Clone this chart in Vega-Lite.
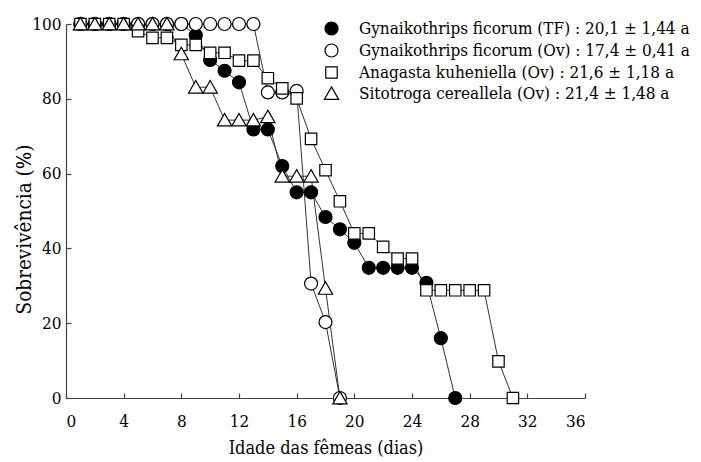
{
  "$schema": "https://vega.github.io/schema/vega-lite/v6.json",
  "width": 519,
  "height": 374,
  "autosize": {"type": "none"},
  "padding": {"left": 66, "top": 24, "right": 116, "bottom": 64},
  "background": "white",
  "config": {
    "view": {"stroke": null},
    "font": "DejaVu Serif Condensed, DejaVu Serif",
    "axis": {
      "grid": false,
      "domainColor": "#444",
      "domainWidth": 1.2,
      "tickColor": "#444",
      "tickWidth": 1.2,
      "tickSize": -5,
      "labelFont": "DejaVu Serif Condensed, DejaVu Serif",
      "labelFontSize": 17,
      "labelColor": "black",
      "titleFont": "DejaVu Serif Condensed, DejaVu Serif",
      "titleFontSize": 18,
      "titleFontWeight": "normal",
      "titleColor": "black"
    },
    "legend": {
      "orient": "none",
      "legendX": 257,
      "legendY": -4,
      "padding": 0,
      "labelFont": "DejaVu Serif Condensed, DejaVu Serif",
      "labelFontSize": 17,
      "labelColor": "black",
      "labelLimit": 0,
      "labelOffset": 19,
      "rowPadding": 3,
      "symbolSize": 169,
      "symbolStrokeColor": "black",
      "symbolStrokeWidth": 1.2
    }
  },
  "data": {
    "values": [
      {"serie": "Gynaikothrips  ficorum (TF) : 20,1 ± 1,44 a", "d": 1, "v": 100},
      {"serie": "Gynaikothrips  ficorum (TF) : 20,1 ± 1,44 a", "d": 2, "v": 100},
      {"serie": "Gynaikothrips  ficorum (TF) : 20,1 ± 1,44 a", "d": 3, "v": 100},
      {"serie": "Gynaikothrips  ficorum (TF) : 20,1 ± 1,44 a", "d": 4, "v": 100},
      {"serie": "Gynaikothrips  ficorum (TF) : 20,1 ± 1,44 a", "d": 5, "v": 100},
      {"serie": "Gynaikothrips  ficorum (TF) : 20,1 ± 1,44 a", "d": 6, "v": 100},
      {"serie": "Gynaikothrips  ficorum (TF) : 20,1 ± 1,44 a", "d": 7, "v": 100},
      {"serie": "Gynaikothrips  ficorum (TF) : 20,1 ± 1,44 a", "d": 8, "v": 100},
      {"serie": "Gynaikothrips  ficorum (TF) : 20,1 ± 1,44 a", "d": 9, "v": 97},
      {"serie": "Gynaikothrips  ficorum (TF) : 20,1 ± 1,44 a", "d": 10, "v": 90.4},
      {"serie": "Gynaikothrips  ficorum (TF) : 20,1 ± 1,44 a", "d": 11, "v": 87.5},
      {"serie": "Gynaikothrips  ficorum (TF) : 20,1 ± 1,44 a", "d": 12, "v": 84.4},
      {"serie": "Gynaikothrips  ficorum (TF) : 20,1 ± 1,44 a", "d": 13, "v": 71.8},
      {"serie": "Gynaikothrips  ficorum (TF) : 20,1 ± 1,44 a", "d": 14, "v": 71.8},
      {"serie": "Gynaikothrips  ficorum (TF) : 20,1 ± 1,44 a", "d": 15, "v": 62},
      {"serie": "Gynaikothrips  ficorum (TF) : 20,1 ± 1,44 a", "d": 16, "v": 55},
      {"serie": "Gynaikothrips  ficorum (TF) : 20,1 ± 1,44 a", "d": 17, "v": 55},
      {"serie": "Gynaikothrips  ficorum (TF) : 20,1 ± 1,44 a", "d": 18, "v": 48.4},
      {"serie": "Gynaikothrips  ficorum (TF) : 20,1 ± 1,44 a", "d": 19, "v": 45.1},
      {"serie": "Gynaikothrips  ficorum (TF) : 20,1 ± 1,44 a", "d": 20, "v": 41.5},
      {"serie": "Gynaikothrips  ficorum (TF) : 20,1 ± 1,44 a", "d": 21, "v": 34.8},
      {"serie": "Gynaikothrips  ficorum (TF) : 20,1 ± 1,44 a", "d": 22, "v": 34.8},
      {"serie": "Gynaikothrips  ficorum (TF) : 20,1 ± 1,44 a", "d": 23, "v": 34.8},
      {"serie": "Gynaikothrips  ficorum (TF) : 20,1 ± 1,44 a", "d": 24, "v": 34.8},
      {"serie": "Gynaikothrips  ficorum (TF) : 20,1 ± 1,44 a", "d": 25, "v": 30.8},
      {"serie": "Gynaikothrips  ficorum (TF) : 20,1 ± 1,44 a", "d": 26, "v": 16},
      {"serie": "Gynaikothrips  ficorum (TF) : 20,1 ± 1,44 a", "d": 27, "v": 0},
      {"serie": "Gynaikothrips ficorum (Ov) : 17,4 ± 0,41 a", "d": 1, "v": 100},
      {"serie": "Gynaikothrips ficorum (Ov) : 17,4 ± 0,41 a", "d": 2, "v": 100},
      {"serie": "Gynaikothrips ficorum (Ov) : 17,4 ± 0,41 a", "d": 3, "v": 100},
      {"serie": "Gynaikothrips ficorum (Ov) : 17,4 ± 0,41 a", "d": 4, "v": 100},
      {"serie": "Gynaikothrips ficorum (Ov) : 17,4 ± 0,41 a", "d": 5, "v": 100},
      {"serie": "Gynaikothrips ficorum (Ov) : 17,4 ± 0,41 a", "d": 6, "v": 100},
      {"serie": "Gynaikothrips ficorum (Ov) : 17,4 ± 0,41 a", "d": 7, "v": 100},
      {"serie": "Gynaikothrips ficorum (Ov) : 17,4 ± 0,41 a", "d": 8, "v": 100},
      {"serie": "Gynaikothrips ficorum (Ov) : 17,4 ± 0,41 a", "d": 9, "v": 100},
      {"serie": "Gynaikothrips ficorum (Ov) : 17,4 ± 0,41 a", "d": 10, "v": 100},
      {"serie": "Gynaikothrips ficorum (Ov) : 17,4 ± 0,41 a", "d": 11, "v": 100},
      {"serie": "Gynaikothrips ficorum (Ov) : 17,4 ± 0,41 a", "d": 12, "v": 100},
      {"serie": "Gynaikothrips ficorum (Ov) : 17,4 ± 0,41 a", "d": 13, "v": 100},
      {"serie": "Gynaikothrips ficorum (Ov) : 17,4 ± 0,41 a", "d": 14, "v": 81.7},
      {"serie": "Gynaikothrips ficorum (Ov) : 17,4 ± 0,41 a", "d": 15, "v": 81.7},
      {"serie": "Gynaikothrips ficorum (Ov) : 17,4 ± 0,41 a", "d": 16, "v": 82.1},
      {"serie": "Gynaikothrips ficorum (Ov) : 17,4 ± 0,41 a", "d": 17, "v": 30.6},
      {"serie": "Gynaikothrips ficorum (Ov) : 17,4 ± 0,41 a", "d": 18, "v": 20.3},
      {"serie": "Gynaikothrips ficorum (Ov) : 17,4 ± 0,41 a", "d": 19, "v": 0},
      {"serie": "Anagasta kuheniella (Ov) : 21,6 ± 1,18 a", "d": 1, "v": 100},
      {"serie": "Anagasta kuheniella (Ov) : 21,6 ± 1,18 a", "d": 2, "v": 100},
      {"serie": "Anagasta kuheniella (Ov) : 21,6 ± 1,18 a", "d": 3, "v": 100},
      {"serie": "Anagasta kuheniella (Ov) : 21,6 ± 1,18 a", "d": 4, "v": 100},
      {"serie": "Anagasta kuheniella (Ov) : 21,6 ± 1,18 a", "d": 5, "v": 98.1},
      {"serie": "Anagasta kuheniella (Ov) : 21,6 ± 1,18 a", "d": 6, "v": 96.3},
      {"serie": "Anagasta kuheniella (Ov) : 21,6 ± 1,18 a", "d": 7, "v": 96.3},
      {"serie": "Anagasta kuheniella (Ov) : 21,6 ± 1,18 a", "d": 8, "v": 94.4},
      {"serie": "Anagasta kuheniella (Ov) : 21,6 ± 1,18 a", "d": 9, "v": 94.4},
      {"serie": "Anagasta kuheniella (Ov) : 21,6 ± 1,18 a", "d": 10, "v": 92.3},
      {"serie": "Anagasta kuheniella (Ov) : 21,6 ± 1,18 a", "d": 11, "v": 92.3},
      {"serie": "Anagasta kuheniella (Ov) : 21,6 ± 1,18 a", "d": 12, "v": 90.2},
      {"serie": "Anagasta kuheniella (Ov) : 21,6 ± 1,18 a", "d": 13, "v": 90.2},
      {"serie": "Anagasta kuheniella (Ov) : 21,6 ± 1,18 a", "d": 14, "v": 85.5},
      {"serie": "Anagasta kuheniella (Ov) : 21,6 ± 1,18 a", "d": 15, "v": 82.8},
      {"serie": "Anagasta kuheniella (Ov) : 21,6 ± 1,18 a", "d": 16, "v": 80.1},
      {"serie": "Anagasta kuheniella (Ov) : 21,6 ± 1,18 a", "d": 17, "v": 69.3},
      {"serie": "Anagasta kuheniella (Ov) : 21,6 ± 1,18 a", "d": 18, "v": 60.9},
      {"serie": "Anagasta kuheniella (Ov) : 21,6 ± 1,18 a", "d": 19, "v": 52.6},
      {"serie": "Anagasta kuheniella (Ov) : 21,6 ± 1,18 a", "d": 20, "v": 44},
      {"serie": "Anagasta kuheniella (Ov) : 21,6 ± 1,18 a", "d": 21, "v": 44},
      {"serie": "Anagasta kuheniella (Ov) : 21,6 ± 1,18 a", "d": 22, "v": 40.4},
      {"serie": "Anagasta kuheniella (Ov) : 21,6 ± 1,18 a", "d": 23, "v": 37.3},
      {"serie": "Anagasta kuheniella (Ov) : 21,6 ± 1,18 a", "d": 24, "v": 37.3},
      {"serie": "Anagasta kuheniella (Ov) : 21,6 ± 1,18 a", "d": 25, "v": 28.8},
      {"serie": "Anagasta kuheniella (Ov) : 21,6 ± 1,18 a", "d": 26, "v": 28.8},
      {"serie": "Anagasta kuheniella (Ov) : 21,6 ± 1,18 a", "d": 27, "v": 28.8},
      {"serie": "Anagasta kuheniella (Ov) : 21,6 ± 1,18 a", "d": 28, "v": 28.8},
      {"serie": "Anagasta kuheniella (Ov) : 21,6 ± 1,18 a", "d": 29, "v": 28.8},
      {"serie": "Anagasta kuheniella (Ov) : 21,6 ± 1,18 a", "d": 30, "v": 9.8},
      {"serie": "Anagasta kuheniella (Ov) : 21,6 ± 1,18 a", "d": 31, "v": 0},
      {"serie": "Sitotroga cereallela (Ov) : 21,4 ± 1,48 a", "d": 1, "v": 100},
      {"serie": "Sitotroga cereallela (Ov) : 21,4 ± 1,48 a", "d": 2, "v": 100},
      {"serie": "Sitotroga cereallela (Ov) : 21,4 ± 1,48 a", "d": 3, "v": 100},
      {"serie": "Sitotroga cereallela (Ov) : 21,4 ± 1,48 a", "d": 4, "v": 100},
      {"serie": "Sitotroga cereallela (Ov) : 21,4 ± 1,48 a", "d": 5, "v": 100},
      {"serie": "Sitotroga cereallela (Ov) : 21,4 ± 1,48 a", "d": 6, "v": 100},
      {"serie": "Sitotroga cereallela (Ov) : 21,4 ± 1,48 a", "d": 7, "v": 100},
      {"serie": "Sitotroga cereallela (Ov) : 21,4 ± 1,48 a", "d": 8, "v": 92},
      {"serie": "Sitotroga cereallela (Ov) : 21,4 ± 1,48 a", "d": 9, "v": 83.1},
      {"serie": "Sitotroga cereallela (Ov) : 21,4 ± 1,48 a", "d": 10, "v": 83.1},
      {"serie": "Sitotroga cereallela (Ov) : 21,4 ± 1,48 a", "d": 11, "v": 74.3},
      {"serie": "Sitotroga cereallela (Ov) : 21,4 ± 1,48 a", "d": 12, "v": 74.3},
      {"serie": "Sitotroga cereallela (Ov) : 21,4 ± 1,48 a", "d": 13, "v": 74.3},
      {"serie": "Sitotroga cereallela (Ov) : 21,4 ± 1,48 a", "d": 14, "v": 75.2},
      {"serie": "Sitotroga cereallela (Ov) : 21,4 ± 1,48 a", "d": 15, "v": 59.3},
      {"serie": "Sitotroga cereallela (Ov) : 21,4 ± 1,48 a", "d": 16, "v": 59.3},
      {"serie": "Sitotroga cereallela (Ov) : 21,4 ± 1,48 a", "d": 17, "v": 59.3},
      {"serie": "Sitotroga cereallela (Ov) : 21,4 ± 1,48 a", "d": 18, "v": 29.3},
      {"serie": "Sitotroga cereallela (Ov) : 21,4 ± 1,48 a", "d": 19, "v": 0}
    ]
  },
  "encoding": {
    "x": {
      "field": "d",
      "type": "quantitative",
      "scale": {"domain": [0, 36], "nice": false},
      "axis": {
        "values": [0, 4, 8, 12, 16, 20, 24, 28, 32, 36],
        "title": "Idade das fêmeas (dias)",
        "labelPadding": 20,
        "titlePadding": 10
      }
    },
    "y": {
      "field": "v",
      "type": "quantitative",
      "scale": {"domain": [0, 100], "nice": false},
      "axis": {
        "values": [0, 20, 40, 60, 80, 100],
        "title": "Sobrevivência (%)",
        "titleFontSize": 20.5,
        "titleY": 205,
        "labelPadding": 10,
        "titlePadding": -3
      }
    }
  },
  "layer": [
    {
      "mark": {"type": "line", "stroke": "#333", "strokeWidth": 1},
      "encoding": {"detail": {"field": "serie"}}
    },
    {
      "mark": {"type": "point", "filled": true, "stroke": "black", "strokeWidth": 1.2, "size": 169, "opacity": 1},
      "encoding": {
        "shape": {
          "field": "serie",
          "type": "nominal",
          "scale": {
            "domain": [
              "Gynaikothrips  ficorum (TF) : 20,1 ± 1,44 a",
              "Gynaikothrips ficorum (Ov) : 17,4 ± 0,41 a",
              "Anagasta kuheniella (Ov) : 21,6 ± 1,18 a",
              "Sitotroga cereallela (Ov) : 21,4 ± 1,48 a"
            ],
            "range": [
              "M1,0A1,1,0,1,1,-1,0A1,1,0,1,1,1,0Z",
              "M1,0A1,1,0,1,1,-1,0A1,1,0,1,1,1,0Z",
              "M-0.88,-0.88H0.88V0.88H-0.88Z",
              "M0,-1.02L1.1,0.9L-1.1,0.9Z"
            ]
          },
          "legend": null
        },
        "color": {
          "field": "serie",
          "type": "nominal",
          "scale": {
            "domain": [
              "Gynaikothrips  ficorum (TF) : 20,1 ± 1,44 a",
              "Gynaikothrips ficorum (Ov) : 17,4 ± 0,41 a",
              "Anagasta kuheniella (Ov) : 21,6 ± 1,18 a",
              "Sitotroga cereallela (Ov) : 21,4 ± 1,48 a"
            ],
            "range": ["black", "white", "white", "white"]
          },
          "legend": {
            "title": null,
            "encode": {
              "symbols": {
                "stroke": {"value": "black"},
                "strokeWidth": {"value": 1.2}
              }
            }
          }
        }
      }
    }
  ]
}
